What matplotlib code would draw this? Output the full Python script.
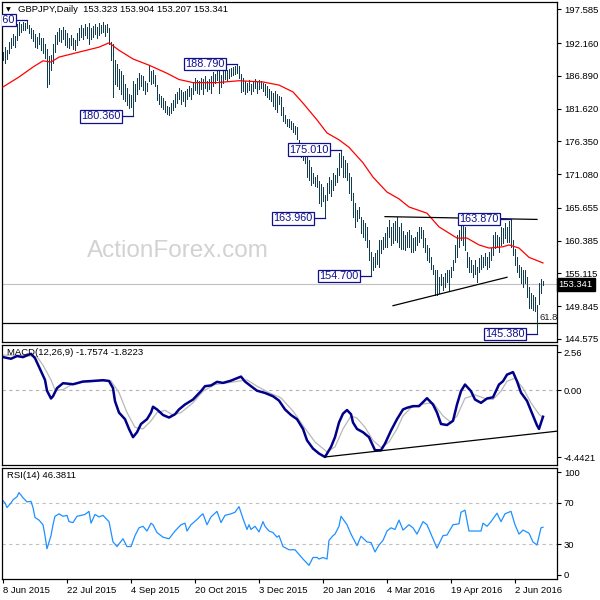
import matplotlib
matplotlib.use('Agg')
import matplotlib.pyplot as plt
import matplotlib.transforms as mtrans

plt.rcParams['font.family'] = ['Liberation Sans', 'DejaVu Sans']

# ---------------- data ----------------
highs = [190.8, 191.5, 191.0, 192.3, 193.0, 193.6, 193.3, 195.3, 195.6, 195.2,
         195.5, 195.4, 195.86, 195.0, 194.6, 194.2, 193.6, 193.2, 193.8, 193.0,
         193.0, 192.0, 191.2, 190.0, 190.3, 192.0, 193.4, 194.0, 194.5, 194.3,
         194.7, 194.2, 193.8, 193.0, 193.5, 193.0, 192.6, 193.8, 194.5, 195.0,
         194.6, 195.2, 194.8, 195.4, 194.6, 194.9, 195.2, 194.8, 195.4, 195.0,
         195.5, 195.1, 195.3, 194.5, 192.3, 192.0, 189.5, 188.8, 188.0, 187.6,
         187.0, 185.6, 185.0, 184.0, 183.8, 186.0, 185.5, 186.5, 187.3, 187.0,
         186.8, 186.0, 185.8, 188.6, 187.6, 187.8, 187.0, 185.4, 184.0, 183.7,
         183.4, 182.8, 182.1, 181.8, 182.6, 183.0, 184.0, 184.3, 185.0, 184.6,
         184.3, 184.4, 184.8, 185.3, 185.0, 185.8, 186.5, 186.2, 186.0, 186.6,
         186.3, 186.8, 186.0, 186.4, 186.8, 187.5, 187.2, 187.9, 188.3, 187.0,
         187.6, 187.9, 187.8, 188.0, 188.1, 188.3, 188.5, 188.79, 188.4, 187.2,
         186.5, 186.0, 185.8, 186.2, 185.6, 186.0, 186.3, 185.9, 186.2, 186.0,
         185.8, 185.5, 185.2, 184.8, 184.5, 184.2, 184.5, 184.0, 183.6, 183.5,
         181.8, 180.6, 180.0, 180.0, 179.7, 179.3, 178.9, 178.7, 176.6, 176.0,
         175.6, 175.0, 173.9, 173.4, 172.3, 171.2, 170.7, 170.9, 169.9, 169.5,
         169.0, 167.8, 169.6, 170.7, 170.2, 171.2, 171.0, 172.0, 174.5, 175.01,
         174.0, 173.4, 172.9, 171.2, 170.7, 168.0, 166.4, 165.3, 165.8, 164.2,
         163.7, 163.2, 162.6, 160.5, 158.5, 157.8, 158.4, 158.9, 160.5, 160.5,
         161.0, 161.6, 162.6, 163.7, 162.6, 163.2, 163.5, 164.2, 162.6, 163.2,
         162.0, 161.3, 161.8, 162.1, 161.3, 160.8, 161.0, 161.8, 162.6, 162.6,
         162.1, 160.8, 159.7, 159.2, 157.8, 156.5, 155.67, 155.67, 154.6, 155.0,
         154.6, 155.2, 155.67, 155.67, 156.2, 157.3, 159.7, 161.3, 162.1, 163.0,
         163.3, 162.6, 158.6, 157.8, 157.3, 156.5, 157.3, 156.2, 157.6, 158.1,
         157.8, 158.4, 157.8, 158.6, 159.2, 161.3, 161.8, 161.3, 161.0, 162.6,
         162.4, 163.2, 162.6, 163.5, 163.87, 160.5, 159.0, 157.8, 156.5, 156.2,
         155.7, 155.7, 154.6, 153.0, 151.9, 151.6, 151.4, 150.0, 153.6, 154.3,
         153.904]
lows = [189.4, 189.0, 189.6, 190.5, 191.3, 191.8, 191.5, 192.6, 193.4, 194.0,
        194.3, 194.2, 194.5, 193.8, 193.0, 192.5, 191.6, 191.3, 192.0, 191.0,
        190.5, 189.8, 185.1, 185.6, 187.8, 189.0, 190.8, 192.0, 192.5, 192.3,
        192.8, 191.9, 191.5, 191.3, 191.8, 191.2, 191.0, 191.8, 192.6, 193.2,
        192.8, 193.5, 193.0, 192.0, 192.8, 193.2, 193.6, 193.0, 193.5, 193.8,
        194.0, 193.3, 193.9, 192.0, 189.5, 183.5, 185.5, 185.2, 184.8, 184.0,
        183.2, 182.8, 182.2, 181.7, 181.8, 180.36, 182.8, 184.0, 184.8, 185.2,
        184.6, 184.0, 184.4, 186.0, 185.5, 185.8, 185.3, 183.0, 182.3, 181.8,
        181.6, 181.0, 180.8, 180.6, 180.9, 181.4, 181.8, 182.6, 183.2, 182.4,
        182.8, 182.0, 183.1, 183.6, 183.2, 184.0, 184.6, 184.2, 183.9, 184.8,
        184.0, 185.0, 184.4, 184.8, 184.1, 185.2, 185.7, 186.2, 184.1, 185.1,
        185.8, 186.4, 186.2, 186.6, 186.8, 187.0, 187.2, 187.4, 186.6, 184.3,
        184.5, 184.0, 184.3, 184.6, 184.0, 184.5, 184.9, 184.2, 184.8, 185.0,
        184.5, 183.8, 183.5, 183.2, 182.8, 182.0, 181.6, 181.0, 182.3, 180.6,
        179.6, 179.3, 178.9, 178.7, 178.3, 177.9, 177.5, 176.8, 174.4, 173.9,
        173.4, 172.8, 170.7, 170.1, 169.4, 169.6, 169.1, 169.0, 166.4, 166.0,
        166.8, 163.96, 166.9, 168.0, 167.5, 168.5, 169.4, 169.8, 171.0, 172.3,
        170.7, 170.7, 170.1, 168.0, 166.9, 164.2, 162.6, 163.5, 164.0, 161.6,
        161.0, 160.5, 159.4, 157.3, 154.7, 155.6, 156.2, 156.7, 156.2, 158.4,
        159.0, 159.4, 159.4, 161.0, 159.7, 160.0, 160.5, 160.2, 159.4, 159.0,
        159.0, 158.9, 159.4, 159.4, 158.6, 158.6, 158.9, 159.7, 160.2, 160.8,
        159.4, 158.6, 157.3, 156.9, 155.8, 155.0, 151.65, 151.65, 151.9, 153.3,
        152.5, 153.0, 153.8, 152.5, 154.6, 155.67, 157.0, 157.8, 159.4, 160.5,
        159.7, 158.9, 156.2, 155.4, 155.4, 154.6, 155.1, 153.8, 155.4, 155.9,
        156.2, 156.5, 155.9, 156.2, 157.3, 158.1, 159.2, 159.4, 158.6, 159.7,
        160.0, 160.8, 160.2, 160.2, 159.4, 158.1, 156.5, 155.4, 154.6, 153.5,
        153.0, 153.5, 151.4, 149.5, 149.5, 149.2, 149.0, 145.38, 150.2, 151.9,
        153.207]

ma_idx = [0, 8, 15, 20, 24, 28, 38, 48, 53, 58, 65, 73, 82, 88, 95, 107, 118,
          130, 138, 145, 150, 157, 162, 168, 173, 180, 185, 192, 198, 203, 212,
          218, 227, 232, 238, 243, 250, 253, 258, 263, 270]
ma_val = [185.1, 186.7, 188.3, 189.3, 189.1, 189.9, 190.7, 191.5, 192.2, 191.0,
          189.6, 188.6, 187.3, 186.3, 185.8, 185.8, 186.1, 185.9, 185.4, 184.3,
          182.5, 179.8, 177.7, 176.6, 175.4, 172.9, 170.6, 168.2, 167.1, 165.8,
          164.8, 162.6, 160.8, 160.8, 159.7, 159.2, 159.4, 159.7, 159.2, 157.7,
          156.8]

macd_idx = [0, 4, 7, 10, 14, 16, 18, 21, 22, 24, 25, 27, 30, 33, 35, 37, 40, 45,
            50, 53, 55, 56, 58, 61, 63, 65, 67, 69, 72, 74, 75, 77, 80, 83, 86,
            88, 91, 95, 99, 101, 104, 107, 110, 114, 116, 119, 121, 124, 127, 131,
            135, 138, 141, 144, 147, 150, 152, 155, 158, 161, 164, 166, 168, 170,
            172, 174, 175, 177, 180, 183, 186, 189, 191, 194, 197, 200, 202, 205,
            208, 212, 215, 217, 219, 222, 225, 227, 229, 231, 234, 236, 239, 242,
            245, 248, 250, 252, 255, 257, 259, 262, 265, 267, 268, 270]
macd_val = [2.22, 2.11, 2.29, 2.22, 2.44, 2.15, 1.57, 0.70, -0.02, -0.54, -0.39,
            0.15, 0.48, 0.44, 0.41, 0.48, 0.59, 0.63, 0.68, 0.63, 0.15, -0.72,
            -1.48, -1.92, -2.57, -3.12, -2.79, -2.24, -1.92, -1.48, -1.09, -1.27,
            -1.64, -1.81, -1.59, -1.27, -0.94, -0.61, -0.05, 0.28, 0.33, 0.57,
            0.50, 0.65, 0.76, 0.92, 0.59, 0.28, -0.02, -0.17, -0.39, -0.68,
            -1.27, -1.64, -1.92, -2.57, -3.33, -3.88, -4.21, -4.44, -3.77, -3.12,
            -2.14, -1.55, -1.31, -1.59, -2.14, -2.57, -2.79, -3.12, -3.99, -3.99,
            -3.55, -2.68, -1.92, -1.27, -1.16, -1.05, -1.05, -0.52, -0.94, -1.48,
            -2.24, -2.31, -2.03, -0.94, -0.05, 0.39, -0.05, -0.61, -0.83, -0.54,
            -0.46, 0.39, 0.61, 1.05, 1.22, 0.61, -0.15, -0.70, -1.68, -2.33,
            -2.57, -1.7574]

signal_idx = [0, 10, 17, 20, 24, 26, 30, 34, 39, 49, 54, 58, 62, 66, 70, 74, 77,
              81, 85, 89, 95, 100, 106, 114, 122, 127, 133, 139, 145, 150, 156,
              162, 166, 170, 174, 177, 181, 185, 189, 193, 197, 200, 204, 210,
              215, 220, 224, 227, 231, 236, 241, 245, 249, 252, 256, 260, 264,
              268, 270]
signal_val = [2.35, 2.35, 2.24, 1.68, 0.70, 0.04, 0.04, 0.37, 0.54, 0.63, 0.63,
              -0.15, -1.48, -2.46, -2.57, -2.03, -1.48, -1.33, -1.64, -1.48,
              -0.83, -0.05, 0.39, 0.54, 0.70, 0.28, -0.15, -0.50, -1.38, -2.35,
              -3.44, -4.10, -3.77, -2.57, -1.70, -1.85, -2.46, -3.33, -3.81,
              -3.44, -2.57, -1.70, -1.16, -0.90, -0.83, -1.70, -2.14, -1.70,
              -0.52, -0.30, -0.54, -0.61, -0.05, 0.61, 0.81, 0.15, -0.83, -1.59,
              -1.8223]

rsi_idx = [0, 1, 2, 4, 5, 7, 8, 9, 10, 12, 14, 15, 16, 18, 20, 21, 22, 24, 25,
           26, 28, 30, 32, 33, 35, 37, 39, 41, 43, 44, 46, 48, 50, 51, 53, 55,
           57, 60, 62, 64, 66, 68, 70, 72, 74, 75, 77, 80, 83, 86, 89, 91, 92,
           94, 97, 99, 100, 102, 104, 107, 109, 111, 114, 116, 118, 120, 122,
           123, 124, 126, 128, 130, 131, 133, 135, 137, 138, 140, 143, 146, 148,
           150, 153, 155, 157, 158, 160, 162, 163, 165, 166, 168, 169, 172, 174,
           177, 179, 182, 184, 186, 188, 190, 192, 194, 196, 198, 200, 203, 205,
           207, 210, 212, 215, 217, 220, 222, 225, 228, 229, 231, 233, 236, 239,
           240, 242, 244, 247, 249, 251, 254, 256, 258, 260, 263, 265, 267, 269,
           270]
rsi_val = [72.1, 70, 65.5, 70, 73, 76, 80, 77.6, 75, 71, 71.5, 65.5, 55.8, 53.3,
           48.8, 38.2, 25.5, 38.2, 48.8, 57, 59.4, 57, 57.9, 51.8, 50.9, 57, 57.9,
           58.8, 61.8, 50.3, 58.8, 56.4, 57.9, 55.8, 51.8, 32.1, 27.6, 35.2, 27.6,
           27.6, 38.2, 45.8, 47.3, 42.7, 50.3, 48.8, 41.2, 36.7, 35.2, 42.7, 48.8,
           50.3, 42.7, 48.8, 53.9, 57.9, 59.4, 48.8, 56.4, 61.8, 50.9, 57.9, 59.4,
           60.9, 66.4, 54.8, 44.2, 48.8, 44.2, 47.3, 41.8, 51.8, 47.3, 42.7, 41.2,
           36.7, 38.2, 27.6, 24.5, 24.5, 20, 15.5, 9.4, 17, 17, 15.5, 17, 15.5,
           33.6, 38.2, 39.7, 47.3, 57, 48.8, 39.7, 28.5, 37.6, 32.1, 31.5, 22.4,
           29.1, 33.6, 42.7, 45.8, 44.2, 53.3, 43.6, 48.8, 45.8, 39.7, 51.8, 48.8,
           35.2, 26.1, 38.2, 38.8, 48.8, 49.7, 60.9, 63, 42.7, 42.7, 42.7, 50.3,
           47.3, 51.8, 60, 51.8, 59.4, 61.8, 48.8, 39.7, 43.6, 40.6, 32.1, 29.1,
           45.8, 46.3811]

date_idx = [0, 32, 64, 96, 128, 160, 192, 224, 256]
date_labels = ['8 Jun 2015', '22 Jul 2015', '4 Sep 2015', '20 Oct 2015',
               '3 Dec 2015', '20 Jan 2016', '4 Mar 2016', '19 Apr 2016',
               '2 Jun 2016']
price_ticks = [197.585, 192.160, 186.890, 181.620, 176.350, 171.080, 165.655,
               160.385, 155.115, 149.845, 144.575]
macd_ticks = [2.56, 0.00, -4.4421]
macd_tick_labels = ['2.56', '0.00', '-4.4421']
rsi_ticks = [100, 70, 30, 0]

swing_idx = [12, 65, 117, 169, 161, 184, 254, 267]
swing_price = [195.86, 180.36, 188.79, 175.01, 163.96, 154.70, 163.87, 145.38]

resist_idx = [191, 267]
resist_val = [164.25, 163.80]
support_idx = [195, 252]
support_val = [149.93, 154.50]
macd_trend_idx = [161, 277]
macd_trend_val = [-4.44, -2.72]

last_price = 153.341
fib_level = 147.09
fib_label = '61.8'
title_main = 'GBPJPY,Daily  153.323 153.904 153.207 153.341'
title_macd = 'MACD(12,26,9) -1.7574 -1.8223'
title_rsi = 'RSI(14) 46.3811'

# ---------------- layout ----------------
W, H = 600, 600
fig = plt.figure(figsize=(6, 6), dpi=100)
fig.patch.set_facecolor('white')


def rect(l, t, r, b):
    return [l / W, 1 - b / H, (r - l) / W, (b - t) / H]


ax = fig.add_axes(rect(2, 2, 557, 342))
axm = fig.add_axes(rect(2, 345, 557, 465))
axr = fig.add_axes(rect(2, 468, 557, 579))

BAR = '#123c50'
NAVY = '#10108c'
FS = 6.8
xlim = (-0.5, 277)

for a in (ax, axm, axr):
    a.set_xlim(*xlim)
    for s in a.spines.values():
        s.set_color('black')
        s.set_linewidth(0.9)
    a.yaxis.tick_right()
    a.tick_params(axis='y', direction='out', length=3, width=0.8, pad=2,
                  labelsize=FS, colors='black')
    a.tick_params(axis='x', bottom=False, labelbottom=False)
    a.set_facecolor('white')

# ---- main price panel ----
ax.set_ylim(144.09, 198.76)
ax.text(0.317, 0.268, 'ActionForex.com', transform=ax.transAxes,
        fontsize=17.5, color='#d2d2d2', ha='center', va='center', zorder=0)
ax.axhline(last_price, color='#c0c0c0', lw=0.8, zorder=1)
ax.axhline(fib_level, color='black', lw=0.9, zorder=2)
idx = list(range(len(highs)))
ax.vlines(idx, lows, highs, color=BAR, lw=0.6, antialiased=False, zorder=3)
ax.plot(ma_idx, ma_val, color='red', lw=0.9, zorder=4)
ax.plot(resist_idx, resist_val, color='black', lw=0.9, zorder=4)
ax.plot(support_idx, support_val, color='black', lw=0.9, zorder=4)

for i, p in zip(swing_idx, swing_price):
    xb = i - 5.5
    ax.plot([xb, i], [p, p], color=NAVY, lw=0.9, zorder=5)
    ax.text(xb - 0.8, p, f'{p:.3f}', ha='right', va='center', fontsize=7.8,
            color=NAVY, zorder=6, clip_on=True,
            bbox=dict(boxstyle='square,pad=0.12', fc='white', ec=NAVY, lw=0.9))

ax.text(268, fib_level + 0.9, fib_label, fontsize=FS, color='#202020',
        ha='left', va='center', zorder=6, clip_on=True)

ax.set_yticks(price_ticks)
ax.set_yticklabels([f'{v:.3f}' for v in price_ticks])
trans = mtrans.blended_transform_factory(ax.transAxes, ax.transData)
ax.text(1.003, last_price, f'{last_price:.3f}', transform=trans, fontsize=FS,
        color='white', ha='left', va='center',
        bbox=dict(boxstyle='square,pad=0.22', fc='black', ec='black'))
ax.text(0.008, 0.977, '\u25bc', transform=ax.transAxes, fontsize=4.5,
        family='DejaVu Sans', ha='left', va='center', color='black')
ax.text(0.029, 0.977, title_main, transform=ax.transAxes, fontsize=FS,
        ha='left', va='center', color='black')

# ---- MACD panel ----
axm.set_ylim(-4.975, 3.027)
axm.axhline(0, color='#b4b4b4', lw=0.8, ls=(0, (3, 3)))
axm.plot(signal_idx, signal_val, color='#b8b8b8', lw=0.9)
axm.plot(macd_idx, macd_val, color='#00008b', lw=1.8)
axm.plot(macd_trend_idx, macd_trend_val, color='black', lw=0.9)
axm.set_yticks(macd_ticks)
axm.set_yticklabels(macd_tick_labels)
axm.text(0.009, 0.94, title_macd, transform=axm.transAxes, fontsize=FS,
         ha='left', va='center', color='black')

# ---- RSI panel ----
axr.set_ylim(-3.9, 103.9)
for lv in (70, 30):
    axr.axhline(lv, color='#c0c0c0', lw=0.8, ls=(0, (3, 3)))
axr.plot(rsi_idx, rsi_val, color='#1e90ff', lw=0.9)
axr.set_yticks(rsi_ticks)
axr.set_yticklabels([str(v) for v in rsi_ticks])
axr.text(0.009, 0.93, title_rsi, transform=axr.transAxes, fontsize=FS,
         ha='left', va='center', color='black')
axr.set_xticks(date_idx)
axr.set_xticklabels(date_labels)
axr.tick_params(axis='x', bottom=True, labelbottom=True, direction='out',
                length=3, width=0.8, pad=2, labelsize=FS)
for lbl in axr.get_xticklabels():
    lbl.set_ha('left')

fig.savefig('out.png', dpi=100)
